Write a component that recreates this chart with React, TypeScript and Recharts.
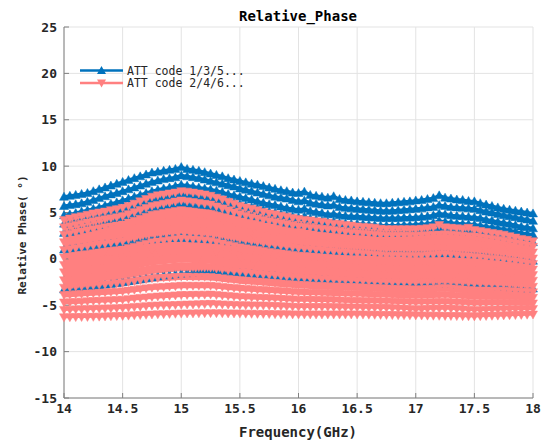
import React from "react";
import { LineChart, Line, XAxis, YAxis, CartesianGrid } from "recharts";

// frequency grid (GHz)
const freq = [
  14, 14.05, 14.1, 14.15, 14.2, 14.25, 14.3, 14.35, 14.4, 14.45,
  14.5, 14.55, 14.6, 14.65, 14.7, 14.75, 14.8, 14.85, 14.9, 14.95,
  15, 15.05, 15.1, 15.15, 15.2, 15.25, 15.3, 15.35, 15.4, 15.45,
  15.5, 15.55, 15.6, 15.65, 15.7, 15.75, 15.8, 15.85, 15.9, 15.95,
  16, 16.05, 16.1, 16.15, 16.2, 16.25, 16.3, 16.35, 16.4, 16.45,
  16.5, 16.55, 16.6, 16.65, 16.7, 16.75, 16.8, 16.85, 16.9, 16.95,
  17, 17.05, 17.1, 17.15, 17.2, 17.25, 17.3, 17.35, 17.4, 17.45,
  17.5, 17.55, 17.6, 17.65, 17.7, 17.75, 17.8, 17.85, 17.9, 17.95,
  18,
];

const xTicks = [14, 14.5, 15, 15.5, 16, 16.5, 17, 17.5, 18];
const yTicks = [-15, -10, -5, 0, 5, 10, 15, 20, 25];

// ATT code 1/3/5... (blue)
const odd1 = [
  6.7, 6.8, 6.9, 7.0, 7.1, 7.3, 7.5, 7.7, 7.9, 8.1,
  8.3, 8.5, 8.7, 8.9, 9.1, 9.3, 9.4, 9.5, 9.6, 9.7,
  9.9, 9.7, 9.6, 9.5, 9.35, 9.2, 9.05, 8.9, 8.7, 8.55,
  8.4, 8.25, 8.1, 8.0, 7.85, 7.7, 7.55, 7.4, 7.3, 7.15,
  7.1, 7.25, 6.9, 6.8, 6.7, 6.6, 6.75, 6.45, 6.35, 6.3,
  6.2, 6.15, 6.1, 6.05, 6.0, 6.0, 6.05, 6.1, 6.15, 6.2,
  6.3, 6.35, 6.45, 6.55, 6.85, 6.6, 6.5, 6.4, 6.35, 6.25,
  6.2, 6.0, 5.85, 5.7, 5.55, 5.4, 5.3, 5.2, 5.1, 5.0,
  4.9,
];
const odd2 = [
  5.7, 5.8, 5.9, 6.0, 6.15, 6.35, 6.55, 6.75, 6.95, 7.1,
  7.3, 7.5, 7.7, 7.9, 8.1, 8.3, 8.45, 8.6, 8.7, 8.8,
  9.0, 8.9, 8.8, 8.7, 8.55, 8.4, 8.25, 8.1, 7.95, 7.8,
  7.6, 7.45, 7.3, 7.15, 7.0, 6.85, 6.7, 6.6, 6.5, 6.35,
  6.2, 6.3, 6.05, 5.95, 5.85, 5.75, 5.8, 5.6, 5.5, 5.45,
  5.4, 5.35, 5.3, 5.25, 5.2, 5.2, 5.2, 5.25, 5.3, 5.35,
  5.4, 5.45, 5.55, 5.6, 5.8, 5.7, 5.6, 5.55, 5.5, 5.45,
  5.4, 5.25, 5.1, 5.0, 4.85, 4.7, 4.6, 4.5, 4.35, 4.25,
  4.1,
];
const odd3 = [
  4.7, 4.8, 4.95, 5.1, 5.25, 5.4, 5.55, 5.75, 5.95, 6.1,
  6.3, 6.5, 6.7, 6.9, 7.1, 7.3, 7.45, 7.6, 7.7, 7.85,
  8.0, 7.9, 7.8, 7.7, 7.6, 7.5, 7.35, 7.2, 7.0, 6.85,
  6.7, 6.55, 6.4, 6.2, 6.05, 5.9, 5.8, 5.65, 5.5, 5.4,
  5.3, 5.4, 5.15, 5.05, 4.95, 4.8, 4.85, 4.7, 4.65, 4.6,
  4.6, 4.55, 4.5, 4.45, 4.4, 4.4, 4.4, 4.4, 4.45, 4.45,
  4.5, 4.55, 4.6, 4.7, 4.9, 4.8, 4.7, 4.65, 4.6, 4.55,
  4.5, 4.4, 4.25, 4.15, 4.0, 3.9, 3.8, 3.65, 3.5, 3.4,
  3.3,
];
const odd4 = [
  3.8, 3.9, 4.05, 4.2, 4.35, 4.5, 4.65, 4.85, 5.05, 5.2,
  5.4, 5.6, 5.8, 6.0, 6.2, 6.4, 6.5, 6.65, 6.75, 6.85,
  7.0, 6.9, 6.85, 6.75, 6.7, 6.6, 6.45, 6.3, 6.2, 6.05,
  5.9, 5.75, 5.6, 5.45, 5.3, 5.1, 5.0, 4.85, 4.7, 4.6,
  4.5, 4.6, 4.35, 4.25, 4.1, 4.0, 4.05, 3.9, 3.85, 3.8,
  3.8, 3.75, 3.7, 3.65, 3.6, 3.6, 3.6, 3.6, 3.65, 3.65,
  3.7, 3.75, 3.8, 3.9, 4.1, 4.0, 3.9, 3.85, 3.8, 3.75,
  3.7, 3.6, 3.5, 3.4, 3.3, 3.2, 3.1, 2.95, 2.8, 2.7,
  2.6,
];
const odd5 = [
  2.8, 2.9, 3.05, 3.2, 3.35, 3.5, 3.65, 3.85, 4.05, 4.2,
  4.4, 4.6, 4.8, 5.0, 5.2, 5.4, 5.5, 5.65, 5.75, 5.85,
  6.0, 5.95, 5.9, 5.8, 5.75, 5.7, 5.55, 5.4, 5.3, 5.15,
  5.0, 4.85, 4.7, 4.6, 4.45, 4.3, 4.2, 4.05, 3.9, 3.8,
  3.7, 3.8, 3.55, 3.45, 3.3, 3.2, 3.25, 3.1, 3.05, 3.0,
  3.0, 2.95, 2.9, 2.85, 2.8, 2.8, 2.8, 2.8, 2.85, 2.85,
  2.9, 2.95, 3.0, 3.05, 3.2, 3.1, 3.05, 3.0, 2.95, 2.9,
  2.9, 2.8, 2.7, 2.6, 2.5, 2.4, 2.3, 2.15, 2.0, 1.9,
  1.8,
];
const odd6 = [
  1.0, 1.1, 1.2, 1.25, 1.3, 1.4, 1.5, 1.6, 1.65, 1.7,
  1.8, 1.85, 1.9, 2.0, 2.05, 2.1, 2.15, 2.2, 2.25, 2.25,
  2.3, 2.25, 2.2, 2.2, 2.15, 2.1, 2.05, 2.0, 1.9, 1.85,
  1.8, 1.7, 1.6, 1.55, 1.45, 1.4, 1.35, 1.25, 1.2, 1.15,
  1.1, 1.05, 1.0, 0.95, 0.9, 0.9, 0.85, 0.85, 0.8, 0.8,
  0.8, 0.8, 0.75, 0.75, 0.7, 0.7, 0.7, 0.65, 0.65, 0.6,
  0.6, 0.6, 0.6, 0.6, 0.6, 0.6, 0.6, 0.55, 0.55, 0.5,
  0.5, 0.45, 0.4, 0.3, 0.25, 0.2, 0.1, 0.05, -0.05, -0.1,
  -0.2,
];
const odd7 = [
  -3.3, -3.25, -3.2, -3.1, -3.05, -3.0, -2.9, -2.8, -2.7, -2.6,
  -2.5, -2.4, -2.3, -2.2, -2.1, -2.0, -1.9, -1.8, -1.75, -1.65,
  -1.6, -1.55, -1.5, -1.45, -1.4, -1.4, -1.4, -1.45, -1.45, -1.5,
  -1.5, -1.55, -1.6, -1.7, -1.75, -1.8, -1.85, -1.95, -2.0, -2.05,
  -2.1, -2.15, -2.2, -2.2, -2.25, -2.3, -2.35, -2.4, -2.4, -2.45,
  -2.5, -2.5, -2.55, -2.55, -2.6, -2.6, -2.6, -2.65, -2.65, -2.7,
  -2.7, -2.7, -2.7, -2.7, -2.7, -2.7, -2.7, -2.75, -2.75, -2.8,
  -2.8, -2.85, -2.9, -2.9, -2.95, -3.0, -3.05, -3.1, -3.15, -3.2,
  -3.2,
];

// ATT code 2/4/6... (salmon)
const even1 = [
  4.2, 4.35, 4.5, 4.6, 4.75, 4.9, 5.0, 5.1, 5.25, 5.35,
  5.5, 5.7, 5.95, 6.2, 6.45, 6.7, 6.85, 6.95, 7.05, 7.15,
  7.3, 7.25, 7.15, 7.05, 6.95, 6.8, 6.6, 6.4, 6.15, 5.95,
  5.7, 5.55, 5.4, 5.25, 5.05, 4.9, 4.8, 4.65, 4.55, 4.4,
  4.3, 4.2, 4.15, 4.05, 4.0, 3.9, 3.8, 3.75, 3.65, 3.6,
  3.5, 3.45, 3.4, 3.35, 3.25, 3.2, 3.2, 3.2, 3.2, 3.2,
  3.2, 3.25, 3.3, 3.4, 3.65, 3.4, 3.35, 3.3, 3.25, 3.35,
  3.1, 3.0, 2.9, 2.8, 2.7, 2.6, 2.45, 2.3, 2.15, 2.05,
  1.9,
];
const even2 = [
  3.4, 3.53, 3.66, 3.79, 3.92, 4.05, 4.16, 4.27, 4.38, 4.49,
  4.6, 4.82, 5.04, 5.26, 5.48, 5.7, 5.82, 5.94, 6.06, 6.18,
  6.3, 6.21, 6.12, 6.03, 5.94, 5.85, 5.64, 5.43, 5.22, 5.01,
  4.8, 4.65, 4.5, 4.35, 4.2, 4.05, 3.94, 3.83, 3.72, 3.61,
  3.5, 3.43, 3.36, 3.29, 3.22, 3.15, 3.07, 2.99, 2.91, 2.83,
  2.75, 2.7, 2.65, 2.6, 2.55, 2.5, 2.5, 2.5, 2.5, 2.5,
  2.5, 2.53, 2.56, 2.59, 2.62, 2.65, 2.6, 2.55, 2.5, 2.45,
  2.4, 2.31, 2.22, 2.13, 2.04, 1.95, 1.82, 1.69, 1.56, 1.43,
  1.3,
];
const even3 = [
  2.6, 2.72, 2.84, 2.96, 3.08, 3.2, 3.3, 3.4, 3.5, 3.6,
  3.7, 3.91, 4.12, 4.33, 4.54, 4.75, 4.85, 4.95, 5.05, 5.15,
  5.25, 5.17, 5.09, 5.01, 4.93, 4.85, 4.66, 4.47, 4.28, 4.09,
  3.9, 3.77, 3.64, 3.51, 3.38, 3.25, 3.14, 3.03, 2.92, 2.81,
  2.7, 2.64, 2.58, 2.52, 2.46, 2.4, 2.33, 2.26, 2.19, 2.12,
  2.05, 2.0, 1.95, 1.9, 1.85, 1.8, 1.79, 1.78, 1.77, 1.76,
  1.75, 1.79, 1.83, 1.87, 1.91, 1.95, 1.89, 1.83, 1.77, 1.71,
  1.65, 1.57, 1.49, 1.41, 1.33, 1.25, 1.14, 1.03, 0.92, 0.81,
  0.7,
];
const even4 = [
  1.8, 1.9, 2.0, 2.1, 2.2, 2.3, 2.4, 2.5, 2.6, 2.7,
  2.8, 2.99, 3.18, 3.37, 3.56, 3.75, 3.85, 3.95, 4.05, 4.15,
  4.25, 4.18, 4.11, 4.04, 3.97, 3.9, 3.73, 3.56, 3.39, 3.22,
  3.05, 2.92, 2.79, 2.66, 2.53, 2.4, 2.31, 2.22, 2.13, 2.04,
  1.95, 1.88, 1.81, 1.74, 1.67, 1.6, 1.54, 1.48, 1.42, 1.36,
  1.3, 1.25, 1.2, 1.15, 1.1, 1.05, 1.05, 1.05, 1.05, 1.05,
  1.05, 1.08, 1.11, 1.14, 1.17, 1.2, 1.15, 1.1, 1.05, 1.0,
  0.95, 0.88, 0.81, 0.74, 0.67, 0.6, 0.49, 0.38, 0.27, 0.16,
  0.05,
];
const even5 = [
  0.95, 1.05, 1.15, 1.25, 1.35, 1.45, 1.54, 1.63, 1.72, 1.81,
  1.9, 2.08, 2.26, 2.44, 2.62, 2.8, 2.88, 2.96, 3.04, 3.12,
  3.2, 3.14, 3.08, 3.02, 2.96, 2.9, 2.75, 2.6, 2.45, 2.3,
  2.15, 2.04, 1.93, 1.82, 1.71, 1.6, 1.51, 1.42, 1.33, 1.24,
  1.15, 1.09, 1.03, 0.97, 0.91, 0.85, 0.8, 0.75, 0.7, 0.65,
  0.6, 0.55, 0.5, 0.45, 0.4, 0.35, 0.34, 0.33, 0.32, 0.31,
  0.3, 0.34, 0.38, 0.42, 0.46, 0.5, 0.44, 0.38, 0.32, 0.26,
  0.2, 0.14, 0.08, 0.02, -0.04, -0.1, -0.19, -0.28, -0.37, -0.46,
  -0.55,
];
const even6 = [
  0.15, 0.24, 0.33, 0.42, 0.51, 0.6, 0.68, 0.76, 0.84, 0.92,
  1.0, 1.16, 1.32, 1.48, 1.64, 1.8, 1.88, 1.96, 2.04, 2.12,
  2.2, 2.15, 2.1, 2.05, 2.0, 1.95, 1.81, 1.67, 1.53, 1.39,
  1.25, 1.15, 1.05, 0.95, 0.85, 0.75, 0.67, 0.59, 0.51, 0.43,
  0.35, 0.3, 0.25, 0.2, 0.15, 0.1, 0.05, 0.0, -0.05, -0.1,
  -0.15, -0.19, -0.23, -0.27, -0.31, -0.35, -0.36, -0.37, -0.38, -0.39,
  -0.4, -0.37, -0.34, -0.31, -0.28, -0.25, -0.3, -0.35, -0.4, -0.45,
  -0.5, -0.55, -0.6, -0.65, -0.7, -0.75, -0.83, -0.91, -0.99, -1.07,
  -1.15,
];
const even7 = [
  -0.65, -0.57, -0.49, -0.41, -0.33, -0.25, -0.18, -0.11, -0.04, 0.03,
  0.1, 0.24, 0.38, 0.52, 0.66, 0.8, 0.88, 0.96, 1.04, 1.12,
  1.2, 1.16, 1.12, 1.08, 1.04, 1.0, 0.87, 0.74, 0.61, 0.48,
  0.35, 0.26, 0.17, 0.08, -0.01, -0.1, -0.17, -0.24, -0.31, -0.38,
  -0.45, -0.49, -0.53, -0.57, -0.61, -0.65, -0.7, -0.75, -0.8, -0.85,
  -0.9, -0.93, -0.96, -0.99, -1.02, -1.05, -1.06, -1.07, -1.08, -1.09,
  -1.1, -1.08, -1.06, -1.04, -1.02, -1.0, -1.04, -1.08, -1.12, -1.16,
  -1.2, -1.24, -1.28, -1.32, -1.36, -1.4, -1.47, -1.54, -1.61, -1.68,
  -1.75,
];
const even8 = [
  -1.45, -1.38, -1.31, -1.24, -1.17, -1.1, -1.04, -0.98, -0.92, -0.86,
  -0.8, -0.67, -0.54, -0.41, -0.28, -0.15, -0.09, -0.03, 0.03, 0.09,
  0.15, 0.12, 0.09, 0.06, 0.03, 0.0, -0.11, -0.22, -0.33, -0.44,
  -0.55, -0.62, -0.69, -0.76, -0.83, -0.9, -0.97, -1.04, -1.11, -1.18,
  -1.25, -1.28, -1.31, -1.34, -1.37, -1.4, -1.44, -1.48, -1.52, -1.56,
  -1.6, -1.63, -1.66, -1.69, -1.72, -1.75, -1.77, -1.79, -1.81, -1.83,
  -1.85, -1.82, -1.79, -1.76, -1.73, -1.7, -1.75, -1.8, -1.85, -1.9,
  -1.95, -1.98, -2.01, -2.04, -2.07, -2.1, -2.15, -2.2, -2.25, -2.3,
  -2.35,
];
const even9 = [
  -2.3, -2.24, -2.18, -2.12, -2.06, -2.0, -1.94, -1.88, -1.82, -1.76,
  -1.7, -1.59, -1.48, -1.37, -1.26, -1.15, -1.09, -1.03, -0.97, -0.91,
  -0.85, -0.87, -0.89, -0.91, -0.93, -0.95, -1.04, -1.13, -1.22, -1.31,
  -1.4, -1.47, -1.54, -1.61, -1.68, -1.75, -1.8, -1.85, -1.9, -1.95,
  -2.0, -2.04, -2.08, -2.12, -2.16, -2.2, -2.23, -2.26, -2.29, -2.32,
  -2.35, -2.38, -2.41, -2.44, -2.47, -2.5, -2.51, -2.52, -2.53, -2.54,
  -2.55, -2.53, -2.51, -2.49, -2.47, -2.45, -2.49, -2.53, -2.57, -2.61,
  -2.65, -2.67, -2.69, -2.71, -2.73, -2.75, -2.8, -2.85, -2.9, -2.95,
  -3.0,
];
const even10 = [
  -3.1, -3.05, -3.0, -2.95, -2.9, -2.85, -2.8, -2.75, -2.7, -2.65,
  -2.6, -2.5, -2.4, -2.3, -2.2, -2.1, -2.06, -2.02, -1.98, -1.94,
  -1.9, -1.91, -1.92, -1.93, -1.94, -1.95, -2.02, -2.09, -2.16, -2.23,
  -2.3, -2.35, -2.4, -2.45, -2.5, -2.55, -2.6, -2.65, -2.7, -2.75,
  -2.8, -2.83, -2.86, -2.89, -2.92, -2.95, -2.97, -2.99, -3.01, -3.03,
  -3.05, -3.08, -3.11, -3.14, -3.17, -3.2, -3.22, -3.24, -3.26, -3.28,
  -3.3, -3.27, -3.24, -3.21, -3.18, -3.15, -3.2, -3.25, -3.3, -3.35,
  -3.4, -3.41, -3.42, -3.43, -3.44, -3.45, -3.48, -3.51, -3.54, -3.57,
  -3.6,
];
const even11 = [
  -3.9, -3.86, -3.82, -3.78, -3.74, -3.7, -3.66, -3.62, -3.58, -3.54,
  -3.5, -3.42, -3.34, -3.26, -3.18, -3.1, -3.06, -3.02, -2.98, -2.94,
  -2.9, -2.9, -2.9, -2.9, -2.9, -2.9, -2.96, -3.02, -3.08, -3.14,
  -3.2, -3.24, -3.28, -3.32, -3.36, -3.4, -3.44, -3.48, -3.52, -3.56,
  -3.6, -3.62, -3.64, -3.66, -3.68, -3.7, -3.72, -3.74, -3.76, -3.78,
  -3.8, -3.82, -3.84, -3.86, -3.88, -3.9, -3.92, -3.94, -3.96, -3.98,
  -4.0, -3.98, -3.96, -3.94, -3.92, -3.9, -3.94, -3.98, -4.02, -4.06,
  -4.1, -4.1, -4.1, -4.1, -4.1, -4.1, -4.12, -4.14, -4.16, -4.18,
  -4.2,
];
const even12 = [
  -4.7, -4.67, -4.64, -4.61, -4.58, -4.55, -4.52, -4.49, -4.46, -4.43,
  -4.4, -4.34, -4.28, -4.22, -4.16, -4.1, -4.06, -4.02, -3.98, -3.94,
  -3.9, -3.89, -3.88, -3.87, -3.86, -3.85, -3.9, -3.95, -4.0, -4.05,
  -4.1, -4.13, -4.16, -4.19, -4.22, -4.25, -4.28, -4.31, -4.34, -4.37,
  -4.4, -4.41, -4.42, -4.43, -4.44, -4.45, -4.47, -4.49, -4.51, -4.53,
  -4.55, -4.56, -4.57, -4.58, -4.59, -4.6, -4.62, -4.64, -4.66, -4.68,
  -4.7, -4.69, -4.68, -4.67, -4.66, -4.65, -4.68, -4.71, -4.74, -4.77,
  -4.8, -4.79, -4.78, -4.77, -4.76, -4.75, -4.76, -4.77, -4.78, -4.79,
  -4.8,
];
const even13 = [
  -5.5, -5.48, -5.46, -5.44, -5.42, -5.4, -5.38, -5.36, -5.34, -5.32,
  -5.3, -5.25, -5.2, -5.15, -5.1, -5.05, -5.03, -5.01, -4.99, -4.97,
  -4.95, -4.93, -4.91, -4.89, -4.87, -4.85, -4.88, -4.91, -4.94, -4.97,
  -5.0, -5.01, -5.02, -5.03, -5.04, -5.05, -5.08, -5.11, -5.14, -5.17,
  -5.2, -5.2, -5.2, -5.2, -5.2, -5.2, -5.21, -5.22, -5.23, -5.24,
  -5.25, -5.26, -5.27, -5.28, -5.29, -5.3, -5.33, -5.36, -5.39, -5.42,
  -5.45, -5.43, -5.41, -5.39, -5.37, -5.35, -5.39, -5.43, -5.47, -5.51,
  -5.55, -5.53, -5.51, -5.49, -5.47, -5.45, -5.44, -5.43, -5.42, -5.41,
  -5.4,
];
const even14 = [
  -6.3, -6.29, -6.28, -6.27, -6.26, -6.25, -6.23, -6.21, -6.19, -6.17,
  -6.15, -6.12, -6.09, -6.06, -6.03, -6.0, -5.98, -5.96, -5.94, -5.92,
  -5.9, -5.89, -5.88, -5.87, -5.86, -5.85, -5.86, -5.87, -5.88, -5.89,
  -5.9, -5.91, -5.92, -5.93, -5.94, -5.95, -5.96, -5.97, -5.98, -5.99,
  -6.0, -6.0, -6.0, -6.0, -6.0, -6.0, -6.0, -6.0, -6.0, -6.0,
  -6.0, -6.01, -6.02, -6.03, -6.04, -6.05, -6.06, -6.07, -6.08, -6.09,
  -6.1, -6.11, -6.12, -6.13, -6.14, -6.15, -6.16, -6.17, -6.18, -6.19,
  -6.2, -6.18, -6.16, -6.14, -6.12, -6.1, -6.08, -6.06, -6.04, -6.02,
  -6.0,
];

const oddSeries = [odd1, odd2, odd3, odd4, odd5, odd6, odd7];
const evenSeries = [
  even1, even2, even3, even4, even5, even6, even7,
  even8, even9, even10, even11, even12, even13, even14,
];

// line widths per salmon trace: thick ones overlap into a solid band like the original
const evenWidths = [7, 11, 11, 11, 11, 11, 11, 10, 9, 7, 5, 4, 2, 2];

const BLUE = "#0072BD";
const SALMON = "#FF8080";

const rows = freq.map((f, i) => {
  const row: Record<string, number> = { f };
  oddSeries.forEach((s, k) => (row["o" + k] = s[i]));
  evenSeries.forEach((s, k) => (row["e" + k] = s[i]));
  return row;
});

const tri = (color: string, up: boolean) => (p: any) => {
  const { cx, cy, index } = p;
  if (cx == null || cy == null) return <g key={index} />;
  const pts = up
    ? `${cx},${cy - 4.5} ${cx + 4.5},${cy + 3.5} ${cx - 4.5},${cy + 3.5}`
    : `${cx},${cy + 4.5} ${cx + 4.5},${cy - 3.5} ${cx - 4.5},${cy - 3.5}`;
  return <polygon key={index} points={pts} fill={color} stroke={color} strokeWidth={0.5} />;
};

const upDot = tri(BLUE, true);
const downDot = tri(SALMON, false);

const tickFont = {
  fontFamily: "DejaVu Sans Mono",
  fontWeight: "bold" as const,
  fontSize: 13,
  fill: "#262626",
};
const AXIS = "#808080";

export default function App() {
  return (
    <div style={{ position: "absolute", left: 0, top: 0, width: 545, height: 443, background: "#fff" }}>
      <LineChart
        width={545}
        height={443}
        data={rows}
        margin={{ top: 27, right: 12, bottom: 0, left: 0 }}
      >
        <CartesianGrid stroke="#e3e3e3" strokeWidth={1} />
        <XAxis
          dataKey="f"
          type="number"
          domain={[14, 18]}
          ticks={xTicks}
          interval={0}
          height={45}
          tick={tickFont}
          tickSize={-5}
          tickMargin={11}
          axisLine={{ stroke: AXIS }}
          tickLine={{ stroke: AXIS }}
        />
        <XAxis
          xAxisId="top"
          orientation="top"
          type="number"
          domain={[14, 18]}
          ticks={xTicks}
          interval={0}
          height={0}
          tick={false}
          tickSize={-5}
          axisLine={{ stroke: AXIS }}
          tickLine={{ stroke: AXIS }}
        />
        <YAxis
          type="number"
          domain={[-15, 25]}
          ticks={yTicks}
          interval={0}
          width={64}
          tick={tickFont}
          tickSize={-5}
          tickMargin={12}
          axisLine={{ stroke: AXIS }}
          tickLine={{ stroke: AXIS }}
        />
        <YAxis
          yAxisId="right"
          orientation="right"
          type="number"
          domain={[-15, 25]}
          ticks={yTicks}
          interval={0}
          width={0}
          tick={false}
          tickSize={-5}
          axisLine={{ stroke: AXIS }}
          tickLine={{ stroke: AXIS }}
        />
        {oddSeries.map((_, k) => (
          <Line
            key={"o" + k}
            dataKey={"o" + k}
            type="linear"
            stroke={BLUE}
            strokeWidth={k < 5 ? 3 : 2}
            dot={upDot}
            activeDot={false}
            isAnimationActive={false}
          />
        ))}
        {evenSeries.map((_, k) => (
          <Line
            key={"e" + k}
            dataKey={"e" + k}
            type="linear"
            stroke={SALMON}
            strokeWidth={evenWidths[k]}
            dot={downDot}
            activeDot={false}
            isAnimationActive={false}
          />
        ))}
      </LineChart>
      <svg
        width={545}
        height={443}
        style={{ position: "absolute", left: 0, top: 0, pointerEvents: "none" }}
      >
        <text x={298} y={21} textAnchor="middle" fontFamily="DejaVu Sans Mono" fontWeight="bold" fontSize={14} fill="#000">
          Relative_Phase
        </text>
        <text x={298} y={437} textAnchor="middle" fontFamily="DejaVu Sans Mono" fontWeight="bold" fontSize={14} fill="#262626">
          Frequency(GHz)
        </text>
        <text
          x={22}
          y={235}
          textAnchor="middle"
          dominantBaseline="central"
          transform="rotate(-90 22 235)"
          fontFamily="DejaVu Sans Mono"
          fontWeight="bold"
          fontSize={11}
          fill="#262626"
        >
          Relative Phase( °)
        </text>
        <line x1={80} y1={70.5} x2={123} y2={70.5} stroke={BLUE} strokeWidth={2.5} />
        <polygon points="101.5,66 106,74 97,74" fill={BLUE} />
        <text x={127} y={74.5} fontFamily="DejaVu Sans Mono" fontSize={11.5} fill="#262626">
          ATT code 1/3/5...
        </text>
        <line x1={80} y1={83} x2={123} y2={83} stroke={SALMON} strokeWidth={2.5} />
        <polygon points="101.5,87.5 106,79.5 97,79.5" fill={SALMON} />
        <text x={127} y={87} fontFamily="DejaVu Sans Mono" fontSize={11.5} fill="#262626">
          ATT code 2/4/6...
        </text>
      </svg>
    </div>
  );
}
